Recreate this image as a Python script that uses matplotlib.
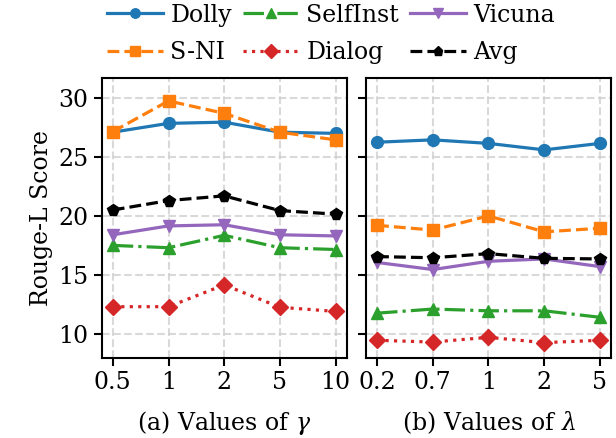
import matplotlib
matplotlib.use("Agg")
import matplotlib.pyplot as plt

plt.rcParams["font.family"] = "DejaVu Serif"
plt.rcParams["mathtext.fontset"] = "dejavuserif"
plt.rcParams["font.size"] = 17

## data
gamma_labels = ["0.5", "1", "2", "5", "10"]
lambda_labels = ["0.2", "0.7", "1", "2", "5"]

dolly_g = [27.1, 27.85, 27.95, 27.1, 27.0]
sni_g = [27.15, 29.75, 28.7, 27.1, 26.45]
selfinst_g = [17.5, 17.3, 18.35, 17.3, 17.15]
dialog_g = [12.3, 12.3, 14.15, 12.25, 11.9]
vicuna_g = [18.4, 19.15, 19.25, 18.4, 18.3]
avg_g = [20.5, 21.3, 21.7, 20.45, 20.15]

dolly_l = [26.25, 26.45, 26.15, 25.6, 26.15]
sni_l = [19.2, 18.8, 20.0, 18.65, 18.95]
selfinst_l = [11.75, 12.1, 11.95, 11.95, 11.4]
dialog_l = [9.45, 9.3, 9.7, 9.25, 9.45]
vicuna_l = [16.05, 15.45, 16.15, 16.35, 15.7]
avg_l = [16.55, 16.45, 16.8, 16.4, 16.35]

names = ["Dolly", "S-NI", "SelfInst", "Dialog", "Vicuna", "Avg"]
colors = ["#1f77b4", "#ff7f0e", "#2ca02c", "#d62728", "#9467bd", "black"]
markers = ["o", "s", "^", "D", "v", "p"]
styles = ["-", "--", "-.", ":", "-", "--"]

fig, axs = plt.subplots(1, 2, figsize=(6.16, 4.38), dpi=100, sharey=True)
fig.subplots_adjust(left=0.165, right=0.992, top=0.822, bottom=0.183, wspace=0.078)

panels = [
    (axs[0], gamma_labels, [dolly_g, sni_g, selfinst_g, dialog_g, vicuna_g, avg_g], r"(a) Values of $\gamma$"),
    (axs[1], lambda_labels, [dolly_l, sni_l, selfinst_l, dialog_l, vicuna_l, avg_l], r"(b) Values of $\lambda$"),
]

for ax, labels, series, xlabel in panels:
    x = range(len(labels))
    for vals, name, c, m, ls in zip(series, names, colors, markers, styles):
        ax.plot(x, vals, color=c, marker=m, linestyle=ls, linewidth=2.3,
                markersize=8.5, label=name)
    ax.set_xticks(list(x))
    ax.set_xticklabels(labels)
    ax.set_xlim(-0.2, 4.2)
    ax.set_xlabel(xlabel, labelpad=11)
    ax.grid(True, linestyle="--", color="#d0d0d0", linewidth=1.5, alpha=0.8)
    ax.tick_params(width=1.5, length=6)
    for s in ax.spines.values():
        s.set_linewidth(1.5)

axs[0].set_ylim(7.96, 31.7)
axs[0].set_yticks([10, 15, 20, 25, 30])
axs[0].set_ylabel("Rouge-L Score")

handles, lbls = axs[0].get_legend_handles_labels()
fig.legend(handles, lbls, ncol=3, loc="upper center", bbox_to_anchor=(0.537, 1.04),
           frameon=False, handlelength=2.4, columnspacing=0.45, handletextpad=0.3,
           labelspacing=0.6, markerscale=0.8)

fig.savefig("out.png", dpi=100)
